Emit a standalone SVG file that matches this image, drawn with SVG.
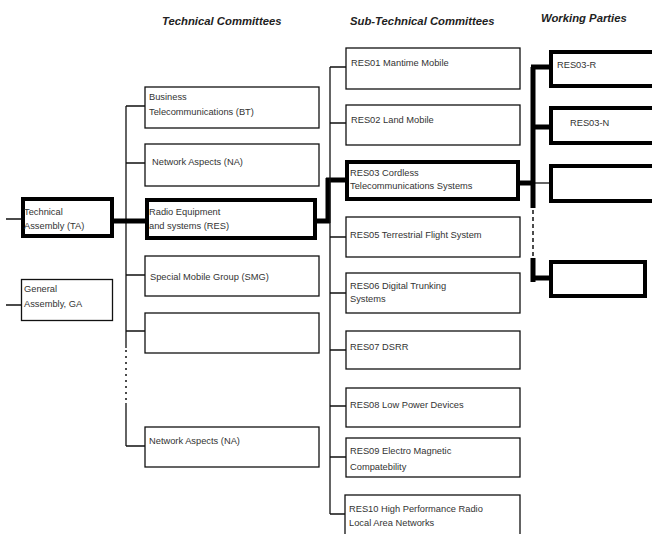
<svg xmlns="http://www.w3.org/2000/svg" width="652" height="534" viewBox="0 0 652 534">
<style>
.bg{fill:#fff}
.box{fill:#fff;stroke:#111;stroke-width:1.3}
.tbox{fill:#fff;stroke:#000;stroke-width:4}
.t{font-family:"Liberation Sans",Arial,sans-serif;font-size:9.3px;fill:#333}
.h{font-family:"Liberation Sans",Arial,sans-serif;font-size:11.3px;font-weight:bold;font-style:italic;fill:#222}
.c{fill:none;stroke:#111;stroke-width:1.3}
.k{fill:none;stroke:#000;stroke-width:5}
.d{fill:none;stroke:#111;stroke-width:1.5;stroke-dasharray:2 4}
.kd{fill:none;stroke:#111;stroke-width:1.5;stroke-dasharray:4 3}
</style>
<rect class="bg" x="0" y="0" width="652" height="534"/>
<g id="headers">
<text class="h" x="162" y="25">Technical Committees</text>
<text class="h" x="350" y="25">Sub-Technical Committees</text>
<text class="h" x="541" y="22">Working Parties</text>
</g>
<g id="connectors">
<path class="c" d="M6 219H21M6 305H21"/>
<path class="c" d="M126 106V348M126 403V446"/>
<path class="d" d="M126 350V402"/>
<path class="c" d="M126 106H145M126 163H145M126 275H145M126 331H145M126 446H145"/>
<path class="k" d="M114 221H145"/>
<path class="k" d="M317 221H330M328 223V178M326 180H345"/>
<path class="c" d="M330 67V514"/>
<path class="c" d="M330 67H346M330 123H346M330 237H346M330 293H346M330 350H346M330 406H346M330 457H346M330 514H345"/>
<path class="k" d="M520 183H535"/>
<path class="c" d="M533 183H549"/>
<path class="k" d="M533 67V208M533 258V282"/>
<path class="kd" d="M533 210V257"/>
<path class="k" d="M531 67H549M533 127H549M533 278H549"/>
</g>
<g id="ta"><rect class="tbox" x="23" y="199" width="89" height="37"/><text class="t" x="24" y="215">Technical</text><text class="t" x="24" y="229">Assembly (TA)</text></g>
<g id="ga"><rect class="box" x="21.5" y="279.5" width="91" height="41"/><text class="t" x="24" y="292">General</text><text class="t" x="24" y="307">Assembly, GA</text></g>
<g id="bt"><rect class="box" x="145" y="87" width="174" height="41"/><text class="t" x="149" y="100">Business</text><text class="t" x="149" y="115">Telecommunications (BT)</text></g>
<g id="na"><rect class="box" x="145" y="144" width="174" height="42"/><text class="t" x="152" y="165">Network Aspects (NA)</text></g>
<g id="res"><rect class="tbox" x="147" y="200" width="168" height="38"/><text class="t" x="149" y="215">Radio Equipment</text><text class="t" x="149" y="229">and systems (RES)</text></g>
<g id="smg"><rect class="box" x="145" y="256" width="174" height="40"/><text class="t" x="150" y="280">Special Mobile Group (SMG)</text></g>
<g id="empty-tc"><rect class="box" x="145" y="313" width="174" height="40"/></g>
<g id="na2"><rect class="box" x="145" y="427" width="174" height="40"/><text class="t" x="149" y="444">Network Aspects (NA)</text></g>
<g id="res01"><rect class="box" x="346" y="48" width="174" height="41"/><text class="t" x="351" y="66">RES01 Mantime Mobile</text></g>
<g id="res02"><rect class="box" x="346" y="105" width="174" height="40"/><text class="t" x="351" y="123">RES02 Land Mobile</text></g>
<g id="res03"><rect class="tbox" x="347" y="162" width="171" height="37"/><text class="t" x="350" y="176">RES03 Cordless</text><text class="t" x="350" y="189">Telecommunications Systems</text></g>
<g id="res05"><rect class="box" x="346" y="217" width="174" height="40"/><text class="t" x="350" y="238">RES05 Terrestrial Flight System</text></g>
<g id="res06"><rect class="box" x="346" y="273" width="174" height="40"/><text class="t" x="350" y="289">RES06 Digital Trunking</text><text class="t" x="350" y="302">Systems</text></g>
<g id="res07"><rect class="box" x="346" y="331" width="174" height="38"/><text class="t" x="350" y="350">RES07 DSRR</text></g>
<g id="res08"><rect class="box" x="346" y="388" width="174" height="39"/><text class="t" x="350" y="408">RES08 Low Power Devices</text></g>
<g id="res09"><rect class="box" x="346" y="438" width="174" height="39"/><text class="t" x="350" y="454">RES09 Electro Magnetic</text><text class="t" x="350" y="470">Compatebility</text></g>
<g id="res10"><rect class="box" x="345" y="495" width="175" height="45"/><text class="t" x="349" y="512">RES10 High Performance Radio</text><text class="t" x="349" y="526">Local Area Networks</text></g>
<g id="wp1"><rect class="tbox" x="551" y="52" width="110" height="34"/><text class="t" x="557" y="68">RES03-R</text></g>
<g id="wp2"><rect class="tbox" x="551" y="108" width="110" height="35"/><text class="t" x="570" y="126">RES03-N</text></g>
<g id="wp3"><rect class="tbox" x="551" y="166" width="110" height="35"/></g>
<g id="wp4"><rect class="tbox" x="551" y="262" width="94" height="34"/></g>
</svg>
